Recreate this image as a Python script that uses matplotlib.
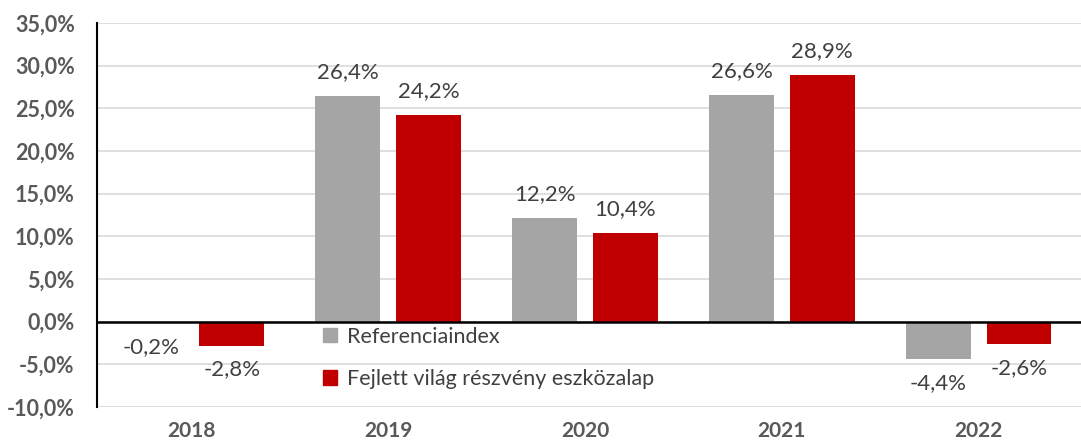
import numpy as np
import matplotlib.pyplot as plt
from matplotlib.patches import Patch

##adatok##
evek = ["2018", "2019", "2020", "2021", "2022"]
referencia = [-0.2, 26.4, 12.2, 26.6, -4.4]
alap = [-2.8, 24.2, 10.4, 28.9, -2.6]
y_ticks = [-10, -5, 0, 5, 10, 15, 20, 25, 30, 35]
sorozat_nevek = ["Referenciaindex", "Fejlett világ részvény eszközalap"]

plt.rcParams["font.family"] = ["Lato", "DejaVu Sans"]

szurke = "#a5a5a5"
piros = "#c00000"
szoveg = "#404040"

fig = plt.figure(figsize=(10.81, 4.44), dpi=100)
ax = fig.add_axes([0.0897, 0.0833, 0.9103, 0.8649])

x = np.arange(len(evek))
w = 0.33
off = 0.205
ax.bar(x - off - 0.02, referencia, w, color=szurke, zorder=2)
ax.bar(x + off - 0.02, alap, w, color=piros, zorder=2)

##adatcímkék##
def cimke(xp, v):
    s = f"{v:.1f}%".replace(".", ",")
    if v >= 0:
        ax.annotate(s, (xp, v), xytext=(0, 10), textcoords="offset points",
                    ha="center", va="bottom", fontsize=16, color=szoveg)
    else:
        ax.annotate(s, (xp, v), xytext=(0, -10), textcoords="offset points",
                    ha="center", va="top", fontsize=16, color=szoveg)

for i in range(len(evek)):
    cimke(x[i] - off - 0.02, referencia[i])
    cimke(x[i] + off - 0.02, alap[i])

ax.set_ylim(-10, 35)
ax.set_xlim(-0.5, 4.5)
ax.set_yticks(y_ticks)
ax.set_yticklabels([f"{t:.1f}%".replace(".", ",") for t in y_ticks],
                   fontsize=15.5, fontweight="bold", color="#595959")
ax.set_xticks(x - 0.02)
ax.set_xticklabels(evek, fontsize=15, fontweight="bold", color="#595959")
ax.tick_params(axis="y", length=0, pad=16)
ax.tick_params(axis="x", length=0, pad=10)

ax.grid(axis="y", color="#d9d9d9", linewidth=1.2, zorder=0)
ax.set_axisbelow(True)
ax.axhline(0, color="black", linewidth=1.8, zorder=3)
for s in ["top", "right", "bottom"]:
    ax.spines[s].set_visible(False)
ax.spines["left"].set_color("black")
ax.spines["left"].set_linewidth(1.5)

handles = [Patch(color=szurke), Patch(color=piros)]
leg = ax.legend(handles, sorozat_nevek, loc="upper left",
                bbox_to_anchor=(0.21, 0.26), frameon=False, fontsize=15.5,
                handlelength=0.65, handleheight=0.65, handletextpad=0.45,
                labelspacing=1.05, labelcolor=szoveg)

plt.savefig("out.png", dpi=100)
